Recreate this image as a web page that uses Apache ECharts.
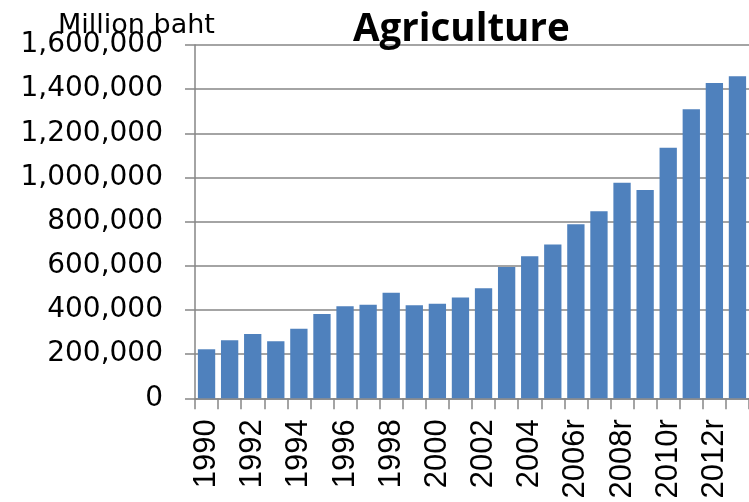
<!DOCTYPE html>
<html>
<head>
<meta charset="utf-8">
<script src="https://cdn.jsdelivr.net/npm/echarts@6/dist/echarts.min.js"></script>
<style>
html,body{margin:0;padding:0;background:#fff;}
#chart{width:749px;height:502px;}
</style>
</head>
<body>
<div id="chart"></div>
<script>
var categories = ['1990','1991','1992','1993','1994','1995','1996','1997','1998','1999','2000','2001','2002','2003','2004','2005','2006r','2007r','2008r','2009r','2010r','2011r','2012r','2013r'];
var agriculture = [222000,263000,291000,258000,315000,382000,417000,424000,478000,421000,428000,456000,498000,595000,643000,697000,788000,847000,976000,943000,1135000,1309000,1428000,1458000];
var yTicks = {min:0, max:1600000, interval:200000};
var titleText = 'Agriculture';
var unitText = 'Million baht';

var chart = echarts.init(document.getElementById('chart'), null, {renderer:'canvas'});
chart.setOption({
  animation:false,
  backgroundColor:'#ffffff',
  title:[
    {text:titleText, left:348, top:6, textStyle:{fontFamily:'Open Sans', fontWeight:'bold', fontSize:38.5, color:'#000'}},
    {text:unitText, left:53, top:7, textStyle:{fontFamily:'DejaVu Sans', fontWeight:'normal', fontSize:27, color:'#000'}}
  ],
  grid:{left:195, top:45, width:558.3, height:353.3, containLabel:false},
  xAxis:{
    type:'category',
    data:categories,
    axisLine:{lineStyle:{color:'#868686', width:1.5}},
    axisTick:{show:true, interval:0, length:11, lineStyle:{color:'#868686', width:1.5}},
    axisLabel:{interval:1, rotate:90, margin:21, fontFamily:'Liberation Sans', fontSize:31, color:'#000'}
  },
  yAxis:{
    type:'value',
    min:yTicks.min, max:yTicks.max, interval:yTicks.interval,
    axisLine:{show:true, lineStyle:{color:'#868686', width:1.5}},
    axisTick:{show:true, length:10, lineStyle:{color:'#868686', width:1.5}},
    splitLine:{show:true, lineStyle:{color:'#868686', width:1.5}},
    axisLabel:{margin:32, fontFamily:'DejaVu Sans', fontSize:28, color:'#000',
      formatter:function(v){return v.toLocaleString('en-US');}}
  },
  series:[{
    type:'bar',
    data:agriculture,
    barCategoryGap:'25%',
    itemStyle:{color:'#4f81bd'}
  }]
});
</script>
</body>
</html>
